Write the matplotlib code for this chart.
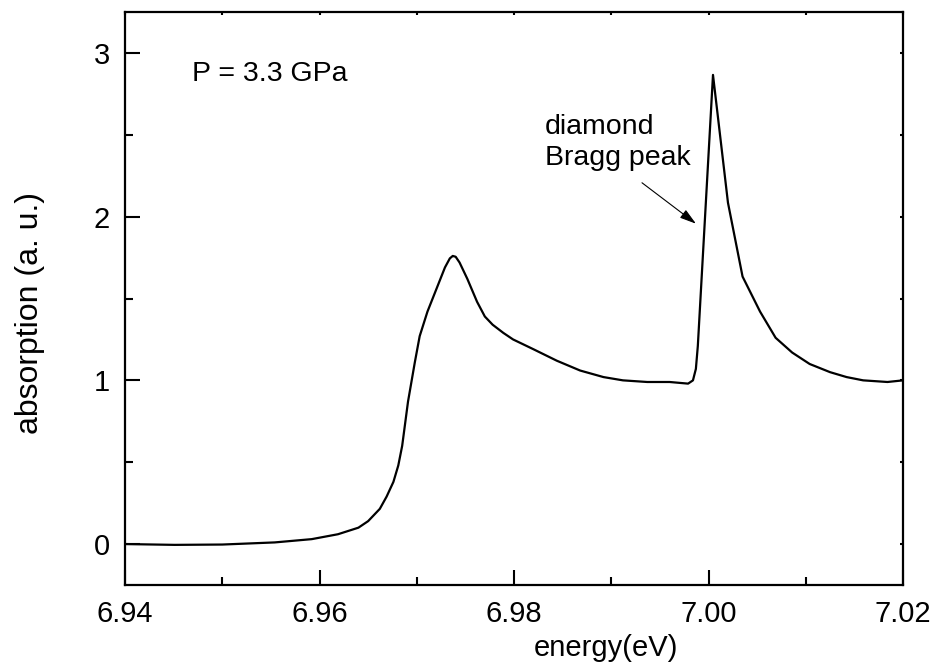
import numpy as np
import matplotlib.pyplot as plt
from matplotlib.ticker import MultipleLocator

plt.rcParams['font.family'] = ['Liberation Sans', 'DejaVu Sans']

# spectrum
energy = [6.9400, 6.9451, 6.9500, 6.9554, 6.9592, 6.9619, 6.9640, 6.9650,
          6.9662, 6.9669, 6.9676, 6.9681, 6.9685, 6.9691, 6.9698, 6.9703,
          6.9711, 6.9721, 6.9729, 6.9734, 6.9737, 6.9740, 6.9744, 6.9752,
          6.9762, 6.9770, 6.9778, 6.9789, 6.9799, 6.9820, 6.9844, 6.9868,
          6.9892, 6.9912, 6.9937, 6.9960, 6.9979, 6.9984, 6.9987, 6.9989,
          7.00046, 7.0020, 7.0035, 7.0053, 7.0069, 7.0086, 7.0104, 7.0125,
          7.0142, 7.0159, 7.0184, 7.0200]
absorption = [0.000, -0.005, -0.003, 0.010, 0.030, 0.060, 0.100, 0.140,
              0.215, 0.29, 0.38, 0.48, 0.60, 0.87, 1.11, 1.27,
              1.42, 1.57, 1.69, 1.745, 1.76, 1.755, 1.72, 1.62,
              1.48, 1.39, 1.34, 1.29, 1.25, 1.19, 1.12, 1.06,
              1.02, 1.00, 0.99, 0.99, 0.98, 1.00, 1.07, 1.21,
              2.866, 2.085, 1.634, 1.42, 1.26, 1.17, 1.10, 1.05,
              1.02, 1.00, 0.99, 1.00]

xticks = [6.94, 6.96, 6.98, 7.00, 7.02]
yticks = [0, 1, 2, 3]

fig = plt.figure(figsize=(9.35, 6.69), dpi=100)
ax = fig.add_axes([0.1337, 0.1256, 0.8321, 0.8564])

ax.plot(energy, absorption, color='black', lw=1.6, solid_joinstyle='round')

ax.set_xlim(6.94, 7.02)
ax.set_ylim(-0.25, 3.25)
ax.set_xticks(xticks)
ax.set_xticklabels([f'{v:.2f}' for v in xticks])
ax.set_yticks(yticks)
ax.xaxis.set_minor_locator(MultipleLocator(0.01))
ax.yaxis.set_minor_locator(MultipleLocator(0.5))

ax.tick_params(which='major', direction='in', length=11, width=1.5, labelsize=21, pad=11)
ax.tick_params(which='minor', direction='in', length=6, width=1.5)
ax.tick_params(which='both', top=True, right=True)
for s in ax.spines.values():
    s.set_linewidth(1.6)

# top and right ticks are barely visible in the original
for t in ax.xaxis.get_ticklines(minor=False)[1::2] + ax.xaxis.get_ticklines(minor=True)[1::2]:
    t.set_markersize(2)
for t in ax.yaxis.get_ticklines(minor=False)[1::2] + ax.yaxis.get_ticklines(minor=True)[1::2]:
    t.set_markersize(2)

ax.set_xlabel('energy(eV)', fontsize=21)
ax.xaxis.set_label_coords(0.618, -0.085)
ax.set_ylabel('absorption (a. u.)', fontsize=23)
ax.yaxis.label.set_verticalalignment('center')
ax.yaxis.set_label_coords(-0.122, 0.475)

ax.text(6.9469, 2.87, 'P = 3.3 GPa', fontsize=20.5, va='center')
ax.text(6.9832, 2.63, 'diamond\nBragg peak', fontsize=20.5, va='top', ha='left',
        linespacing=1.25)
ax.annotate('', xy=(6.99871, 1.957), xytext=(6.99316, 2.207),
            arrowprops=dict(arrowstyle='-|>,head_length=1.0,head_width=0.3',
                            color='black', lw=0.8, mutation_scale=10,
                            shrinkA=0, shrinkB=0))

fig.savefig('out.png', dpi=100)
